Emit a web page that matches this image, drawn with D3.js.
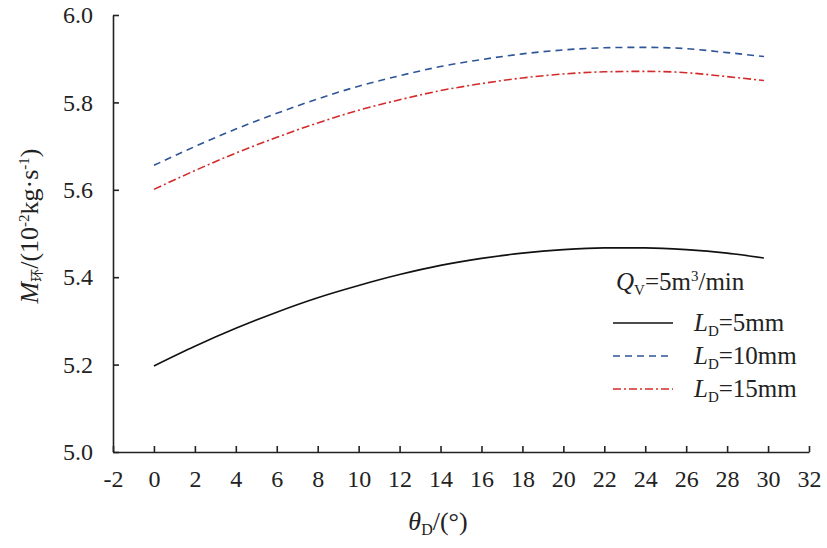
<!DOCTYPE html>
<html><head><meta charset="utf-8">
<script src="https://cdn.jsdelivr.net/npm/d3@7"></script>
<style>body{margin:0;background:#fff} svg text{font-family:"Liberation Serif",serif}</style>
</head><body><svg id="c" width="827" height="548"></svg>
<script>
const thetaD = [0,2,4,6,8,10,12,14,16,18,20,22,24,26,28,29.8];
const ld5  = [5.197,5.242,5.283,5.320,5.353,5.381,5.406,5.427,5.443,5.455,5.463,5.467,5.467,5.463,5.455,5.444];
const ld10 = [5.656,5.699,5.739,5.775,5.808,5.837,5.861,5.882,5.898,5.911,5.920,5.925,5.926,5.923,5.914,5.905];
const ld15 = [5.601,5.644,5.684,5.720,5.753,5.782,5.806,5.827,5.843,5.856,5.865,5.870,5.871,5.868,5.859,5.850];
const xTicks = [-2,0,2,4,6,8,10,12,14,16,18,20,22,24,26,28,30,32];
const yTicks = [5.0,5.2,5.4,5.6,5.8,6.0];
const seriesNames = ["5mm","10mm","15mm"];

const FONT = "'Liberation Serif', serif";
const svg = d3.select("#c");
const m = {l:113, r:18, t:15, b:96};
const W = 827, H = 548;
const x = d3.scaleLinear().domain([-2,32]).range([m.l, W-m.r]);
const y = d3.scaleLinear().domain([5.0,6.0]).range([H-m.b, m.t]);

const xa = svg.append("g").attr("transform",`translate(0,${H-m.b})`)
  .call(d3.axisBottom(x).tickValues(xTicks).tickSize(-6).tickSizeOuter(0).tickPadding(18).tickFormat(d=>d));
const ya = svg.append("g").attr("transform",`translate(${m.l},0)`)
  .call(d3.axisLeft(y).tickValues(yTicks).tickSize(-6).tickSizeOuter(0).tickPadding(20).tickFormat(d3.format(".1f")));
[xa,ya].forEach(a=>{
  a.attr("font-family",null).attr("font-size",null);
  a.selectAll("path,line").attr("stroke","#222").attr("stroke-width",1.6);
  a.selectAll("text").attr("fill","#222").style("font-family",FONT).style("font-size","24px");
});

const line = d3.line().curve(d3.curveMonotoneX);
const styles = [
  {data:ld5, color:"#111", dash:null, w:1.6},
  {data:ld10, color:"#2e5597", dash:"7,5", w:1.6},
  {data:ld15, color:"#d42a2a", dash:"8,3,2,3", w:1.6}
];
styles.forEach(s=>{
  svg.append("path").attr("d", line(thetaD.map((t,i)=>[x(t), y(s.data[i])])))
    .attr("fill","none").attr("stroke",s.color).attr("stroke-width",s.w)
    .attr("stroke-dasharray",s.dash);
});

// legend
const lg = svg.append("g").attr("fill","#222");
const q = lg.append("text").attr("x",616).attr("y",290).style("font-size","25px");
q.append("tspan").attr("font-style","italic").text("Q");
q.append("tspan").style("font-size","15px").attr("dy",5).text("V");
q.append("tspan").attr("dy",-5).text("=5m");
q.append("tspan").style("font-size","15px").attr("dy",-9).text("3");
q.append("tspan").attr("dy",9).text("/min");
const rows = [323,356,389];
styles.forEach((s,i)=>{
  lg.append("line").attr("x1",613).attr("x2",673).attr("y1",rows[i]).attr("y2",rows[i])
    .attr("stroke",s.color).attr("stroke-width",s.w).attr("stroke-dasharray",s.dash);
  const t = lg.append("text").attr("x",694).attr("y",rows[i]+8).style("font-size","25px");
  t.append("tspan").attr("font-style","italic").text("L");
  t.append("tspan").style("font-size","15px").attr("dy",5).text("D");
  t.append("tspan").attr("dy",-5).text("="+seriesNames[i]);
});

// x label
const xl = svg.append("text").attr("x",438).attr("y",530).attr("text-anchor","middle").style("font-size","26px").attr("fill","#222");
xl.append("tspan").attr("font-style","italic").text("θ");
xl.append("tspan").style("font-size","16px").attr("dy",5).text("D");
xl.append("tspan").attr("dy",-5).text("/(°)");

// y label
const yl = svg.append("text").attr("transform","translate(38,226) rotate(-90)").attr("text-anchor","middle").style("font-size","26px").attr("fill","#222");
yl.append("tspan").attr("font-style","italic").text("M");
yl.append("tspan").style("font-size","13px").attr("dy",3).style("font-family","'Noto Sans CJK SC'").text("环");
yl.append("tspan").attr("dy",-3).text("/(10");
yl.append("tspan").style("font-size","15px").attr("dy",-9).text("-2");
yl.append("tspan").attr("dy",9).text("kg·s");
yl.append("tspan").style("font-size","15px").attr("dy",-9).text("-1");
yl.append("tspan").attr("dy",9).text(")");
</script></body></html>
